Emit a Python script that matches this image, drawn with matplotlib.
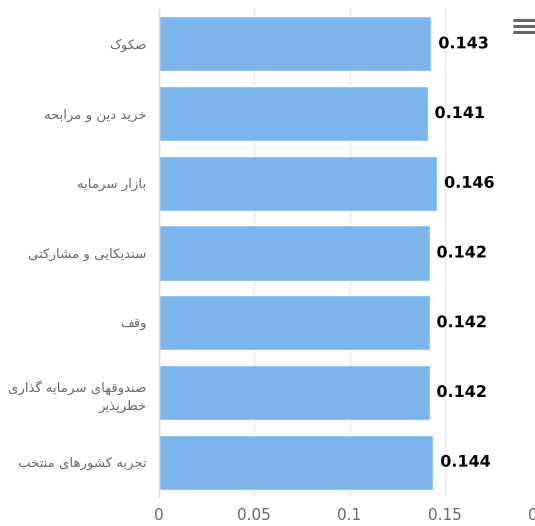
import matplotlib

matplotlib.use("Agg")
import matplotlib.pyplot as plt
import matplotlib.patheffects as pe
from matplotlib.lines import Line2D

categories = [
    "صکوک",
    "خرید دین و مرابحه",
    "بازار سرمایه",
    "سندیکایی و مشارکتی",
    "وقف",
    "صندوقهای سرمایه گذاری\nخطرپذیر",
    "تجربه کشورهای منتخب",
]
values = [0.143, 0.141, 0.146, 0.142, 0.142, 0.142, 0.144]
x_ticks = [0, 0.05, 0.1, 0.15, 0.2]
x_tick_labels = ["0", "0.05", "0.1", "0.15", "0.2"]

_BAR = "#7cb5ec"
_GRID = "#e6e6e6"
_TEXT = "#666666"

# presentation forms: isolated, final, initial, medial (None = right-joining only)
_FORMS = {
    "ا": ("\uFE8D", "\uFE8E", None, None),
    "ب": ("\uFE8F", "\uFE90", "\uFE91", "\uFE92"),
    "پ": ("\uFB56", "\uFB57", "\uFB58", "\uFB59"),
    "ت": ("\uFE95", "\uFE96", "\uFE97", "\uFE98"),
    "ج": ("\uFE9D", "\uFE9E", "\uFE9F", "\uFEA0"),
    "ح": ("\uFEA1", "\uFEA2", "\uFEA3", "\uFEA4"),
    "خ": ("\uFEA5", "\uFEA6", "\uFEA7", "\uFEA8"),
    "د": ("\uFEA9", "\uFEAA", None, None),
    "ذ": ("\uFEAB", "\uFEAC", None, None),
    "ر": ("\uFEAD", "\uFEAE", None, None),
    "ز": ("\uFEAF", "\uFEB0", None, None),
    "س": ("\uFEB1", "\uFEB2", "\uFEB3", "\uFEB4"),
    "ش": ("\uFEB5", "\uFEB6", "\uFEB7", "\uFEB8"),
    "ص": ("\uFEB9", "\uFEBA", "\uFEBB", "\uFEBC"),
    "ط": ("\uFEC1", "\uFEC2", "\uFEC3", "\uFEC4"),
    "ف": ("\uFED1", "\uFED2", "\uFED3", "\uFED4"),
    "ق": ("\uFED5", "\uFED6", "\uFED7", "\uFED8"),
    "ک": ("\uFB8E", "\uFB8F", "\uFB90", "\uFB91"),
    "گ": ("\uFB92", "\uFB93", "\uFB94", "\uFB95"),
    "ل": ("\uFEDD", "\uFEDE", "\uFEDF", "\uFEE0"),
    "م": ("\uFEE1", "\uFEE2", "\uFEE3", "\uFEE4"),
    "ن": ("\uFEE5", "\uFEE6", "\uFEE7", "\uFEE8"),
    "ه": ("\uFEE9", "\uFEEA", "\uFEEB", "\uFEEC"),
    "و": ("\uFEED", "\uFEEE", None, None),
    "ی": ("\uFBFC", "\uFBFD", "\uFBFE", "\uFBFF"),
}


def _shape_line(s: str) -> str:
    """Pick contextual Arabic forms and reverse for left-to-right drawing."""
    out = []
    for i, ch in enumerate(s):
        if ch not in _FORMS:
            out.append(ch)
            continue
        prev = s[i - 1] if i > 0 else ""
        nxt = s[i + 1] if i + 1 < len(s) else ""
        joins_prev = prev in _FORMS and _FORMS[prev][2] is not None
        can_join_next = _FORMS[ch][2] is not None and nxt in _FORMS
        iso, fin, ini, med = _FORMS[ch]
        if joins_prev and can_join_next:
            out.append(med)
        elif joins_prev:
            out.append(fin)
        elif can_join_next:
            out.append(ini)
        else:
            out.append(iso)
    return "".join(reversed(out))


def _shape(s: str) -> str:
    return "\n".join(_shape_line(line) for line in s.split("\n"))


fig = plt.figure(figsize=(5.35, 5.26), dpi=100)
ax = fig.add_axes([159 / 535, 29 / 526, 381 / 535, 488 / 526])

ypos = list(range(len(categories)))
ax.barh(ypos, values, height=0.79, color=_BAR, edgecolor="white", linewidth=1, zorder=2)
ax.set_ylim(len(categories) - 0.5, -0.5)
ax.set_xlim(0, 0.2)

ax.set_yticks(ypos)
ax.set_yticklabels([_shape(c) for c in categories], fontsize=9.5, color=_TEXT,
                   family="DejaVu Sans", ha="right", multialignment="right",
                   linespacing=1.5)
ax.tick_params(axis="y", length=0, pad=9)

ax.set_xticks(x_ticks)
ax.set_xticklabels(x_tick_labels, fontsize=11, color=_TEXT)
ax.tick_params(axis="x", length=0, pad=8)
ax.grid(axis="x", color=_GRID, linewidth=1, zorder=0)

for side in ["top", "right", "bottom"]:
    ax.spines[side].set_visible(False)
ax.spines["left"].set_color("#ccd6eb")
ax.spines["left"].set_linewidth(1)

for y, v in zip(ypos, values):
    ax.annotate(f"{v:.3f}", (v, y), xytext=(5, 0), textcoords="offset points",
                va="center", ha="left", fontsize=11.5, fontweight="bold", color="black",
                path_effects=[pe.withStroke(linewidth=2.5, foreground="white")], zorder=3)

# export menu icon
for yy in (20, 26, 32):
    fig.add_artist(Line2D([514 / 535, 535 / 535], [1 - yy / 526, 1 - yy / 526],
                          transform=fig.transFigure, color="#666666", linewidth=2.2,
                          solid_capstyle="round"))

fig.savefig("out.png", dpi=100)
plt.close(fig)
